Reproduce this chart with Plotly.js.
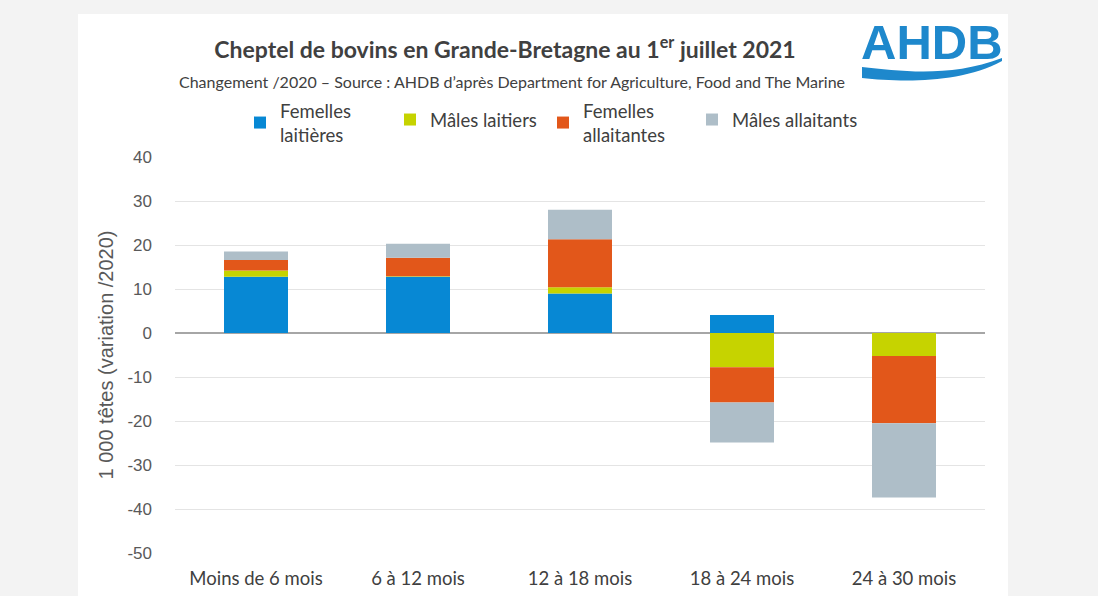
<!DOCTYPE html>
<html>
<head>
<meta charset="utf-8">
<script src="https://cdn.plot.ly/plotly-3.0.1.min.js"></script>
<style>
  html, body { margin:0; padding:0; background:#f3f3f3; }
  #panel { position:absolute; left:78px; top:14px; width:930px; height:582px; background:#ffffff; }
  #chart { position:absolute; left:0; top:0; width:1098px; height:596px; }
</style>
</head>
<body>
<div id="panel"></div>
<div id="chart"></div>
<script>
// ---- data ----
const categories = ["Moins de 6 mois", "6 à 12 mois", "12 à 18 mois", "18 à 24 mois", "24 à 30 mois"];
const femellesLaitieres   = [12.8, 12.8, 9.0, 4.1, 0];
const malesLaitiers       = [1.4, 0.1, 1.4, -7.8, -5.2];
const femellesAllaitantes = [2.4, 4.2, 10.9, -8.0, -15.3];
const malesAllaitants     = [1.9, 3.2, 6.7, -9.1, -16.9];
const seriesNames = ["Femelles<br>laitières", "Mâles laitiers", "Femelles<br>allaitantes", "Mâles allaitants"];
const yTicks = [40, 30, 20, 10, 0, -10, -20, -30, -40, -50];

// ---- style ----
const colors = ["#0788d4", "#c6d300", "#e2571a", "#aebec8"];
const seriesValues = [femellesLaitieres, malesLaitiers, femellesAllaitantes, malesAllaitants];
const fontCal = "Lato, 'Open Sans', sans-serif";
const fontAri = "'Liberation Sans', Arial, sans-serif";

// plot area in pixels: left 175, right 985, top 157, bottom 553
const L = 175, R = 985, T = 157, B = 553;
const px = x => (x - L) / (R - L);
const py = y => (B - y) / (B - T);

const legendIds = ["legend", "legend2", "legend3", "legend4"];
const legendX = [240, 390, 543, 692];
const legendY = [123, 120, 123, 120];

const traces = seriesValues.map((vals, i) => ({
  type: "bar",
  name: seriesNames[i],
  x: categories,
  y: vals,
  legend: legendIds[i],
  marker: { color: colors[i], line: { width: 0 } },
  hoverinfo: "skip"
}));

const wave = "M" + px(862) + "," + py(67) +
  " C" + px(900) + "," + py(71) + " " + px(950) + "," + py(78) + " " + px(1002) + "," + py(58) +
  " L" + px(1002) + "," + py(61) +
  " C" + px(960) + "," + py(84) + " " + px(900) + "," + py(82) + " " + px(862) + "," + py(78) + " Z";

const layout = {
  width: 1098, height: 596,
  paper_bgcolor: "rgba(0,0,0,0)",
  plot_bgcolor: "rgba(0,0,0,0)",
  margin: { l: L, r: 1098 - R, t: T, b: 596 - B, pad: 0 },
  barmode: "relative",
  bargap: 0.605,
  showlegend: true,
  title: {
    text: "<b>Cheptel de bovins en Grande-Bretagne au 1<sup>er</sup> juillet 2021</b>",
    font: { family: fontCal, size: 23, color: "#404040" },
    x: px(505), xanchor: "center", xref: "paper",
    y: 1 - 50 / 596, yanchor: "middle", yref: "container"
  },
  annotations: [
    {
      text: "Changement /2020 – Source : AHDB d’après Department for Agriculture, Food and The Marine",
      xref: "paper", yref: "paper", x: px(512), y: py(82), xanchor: "center", yanchor: "middle",
      showarrow: false, font: { family: fontCal, size: 16, color: "#404040" }
    },
    {
      text: "<b>AHDB</b>",
      xref: "paper", yref: "paper", x: px(932), y: py(42), xanchor: "center", yanchor: "middle",
      showarrow: false, font: { family: "'Liberation Sans', Arial, sans-serif", size: 49, color: "#1e88cc" }
    }
  ],
  shapes: [
    { type: "path", xref: "paper", yref: "paper", path: wave, fillcolor: "#1e88cc", line: { width: 0 } }
  ],
  xaxis: {
    type: "category",
    tickfont: { family: fontCal, size: 18.5, color: "#404040" },
    showgrid: false,
    zeroline: false,
    showline: false,
    ticks: "",
    ticklabelstandoff: 12
  },
  yaxis: {
    range: [-50, 40],
    tickvals: yTicks,
    ticktext: yTicks.map(String),
    tickfont: { family: fontAri, size: 17, color: "#595959" },
    showgrid: true, gridcolor: "#e4e4e4", gridwidth: 1,
    zeroline: true, zerolinecolor: "#a6a6a6", zerolinewidth: 1.5,
    showline: false,
    ticks: "",
    ticklabelstandoff: 22,
    title: {
      text: "1 000 têtes (variation /2020)",
      font: { family: fontAri, size: 20, color: "#595959" },
      standoff: 8
    }
  }
};

legendIds.forEach((id, i) => {
  layout[id] = {
    orientation: "h",
    x: px(legendX[i]), xanchor: "left",
    y: py(legendY[i]), yanchor: "middle",
    font: { family: fontCal, size: 18.5, color: "#404040" },
    bgcolor: "rgba(0,0,0,0)",
    itemclick: false
  };
});

Plotly.newPlot("chart", traces, layout, { staticPlot: true, displayModeBar: false });
</script>
</body>
</html>
